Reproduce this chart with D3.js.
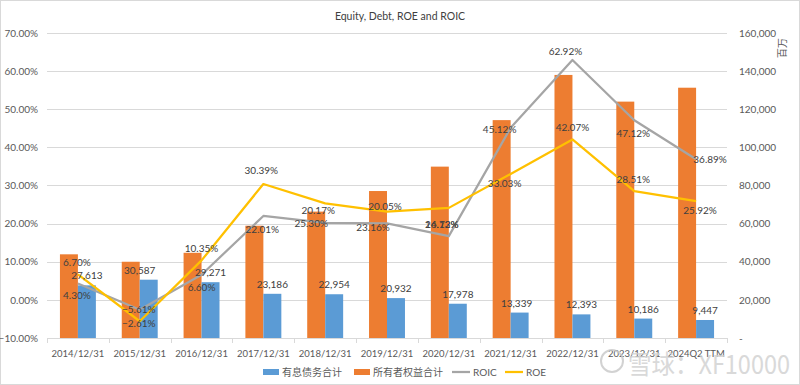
<!DOCTYPE html>
<html>
<head>
<meta charset="utf-8">
<script src="https://cdn.jsdelivr.net/npm/d3@7/dist/d3.min.js"></script>
<style>
  html, body { margin: 0; padding: 0; background: #fff; }
  svg { display: block; font-family: Lato, "Noto Sans", "Noto Sans CJK SC", sans-serif; }
</style>
</head>
<body>
<svg id="chart" width="800" height="385"></svg>
<script>
// ---------- data ----------
const categories = ["2014/12/31","2015/12/31","2016/12/31","2017/12/31","2018/12/31","2019/12/31","2020/12/31","2021/12/31","2022/12/31","2023/12/31","2024Q2 TTM"];
const debt   = [27613, 30587, 29271, 23186, 22954, 20932, 17978, 13339, 12393, 10186, 9447];      // 有息债务合计 (百万)
const equity = [43900, 40000, 44700, 58900, 66300, 77100, 89900, 114300, 138000, 124000, 131300]; // 所有者权益合计 (百万, estimated)
const roic   = [0.0430, -0.0261, 0.0660, 0.2201, 0.2017, 0.2005, 0.1672, 0.4512, 0.6292, 0.4712, 0.3689];
const roe    = [0.0670, -0.0561, 0.1035, 0.3039, 0.2530, 0.2316, 0.2413, 0.3303, 0.4207, 0.2851, 0.2592];
const leftTicks  = [-0.1, 0, 0.1, 0.2, 0.3, 0.4, 0.5, 0.6, 0.7];
const rightTicks = [0, 20000, 40000, 60000, 80000, 100000, 120000, 140000, 160000];
const seriesNames = { debt: "有息债务合计", equity: "所有者权益合计", roic: "ROIC", roe: "ROE" };

// ---------- layout (label nudges, as placed in the original) ----------
const roeLabelOffset  = [[-1,-12],[-1,-12],[0,-12],[-2,-14],[-14,20],[-14,15],[-7,16],[-6,9],[0,-12],[-1,-12],[4,9]];
const roicLabelOffset = [[-1,12],[-1,13],[0,12],[-1,13],[-7,-13],[-2,-17],[-7,-12],[-11,1],[-7,-9],[-1,13],[14,0]];
const debtLabelDx     = [0,-9,0,0,0,0,0,-3,0,0,0];

const colors = { debt: "#5B9BD5", equity: "#ED7D31", roic: "#A5A5A5", roe: "#FFC000" };
const W = 800, H = 385;
const plot = { left: 47, right: 727, top: 33, bottom: 338 };

const svg = d3.select("#chart");

// frame
svg.append("rect").attr("x", 0.5).attr("y", 0.5).attr("width", W - 1).attr("height", H - 1)
  .attr("fill", "#fff").attr("stroke", "#d9d9d9");

// scales
const x = d3.scaleBand().domain(categories).range([plot.left, plot.right]).paddingInner(0).paddingOuter(0);
const sub = d3.scaleBand().domain(["equity","debt"]).range([0, x.bandwidth()]).paddingInner(0).paddingOuter(0.72);
const yL = d3.scaleLinear().domain([-0.1, 0.7]).range([plot.bottom, plot.top]);
const yR = d3.scaleLinear().domain([0, 160000]).range([plot.bottom, plot.top]);
const cx = c => x(c) + x.bandwidth() / 2;

// title
svg.append("text").attr("x", 400).attr("y", 16).attr("text-anchor", "middle")
  .attr("dominant-baseline", "central").attr("font-size", 10.5).attr("fill", "#404040")
  .text("Equity, Debt, ROE and ROIC");

// gridlines
svg.append("g").selectAll("line").data(leftTicks).join("line")
  .attr("x1", plot.left).attr("x2", plot.right)
  .attr("y1", d => Math.round(yL(d)) + 0.5).attr("y2", d => Math.round(yL(d)) + 0.5)
  .attr("stroke", "#d9d9d9").attr("stroke-width", 1);

// left axis
const axL = svg.append("g").attr("transform", `translate(${plot.left},0)`)
  .call(d3.axisLeft(yL).tickValues(leftTicks).tickFormat(d3.format(".2%")).tickSize(0).tickPadding(9));
axL.select(".domain").remove();
axL.selectAll("text").attr("font-size", 10).attr("fill", "#595959").attr("font-family", "Lato, sans-serif");

// right axis
const fmtR = d => d === 0 ? "-" : d3.format(",")(d);
const axR = svg.append("g").attr("transform", `translate(${plot.right},0)`)
  .call(d3.axisRight(yR).tickValues(rightTicks).tickFormat(fmtR).tickSize(0).tickPadding(12));
axR.select(".domain").remove();
axR.selectAll("text").attr("font-size", 10).attr("fill", "#595959").attr("font-family", "Lato, sans-serif");

// unit label
svg.append("text").attr("transform", "translate(781,48) rotate(-90)")
  .attr("text-anchor", "middle").attr("dominant-baseline", "central")
  .attr("font-size", 10).attr("fill", "#595959").attr("font-family", "'Noto Sans CJK SC', sans-serif")
  .text("百万");

// bottom axis
const axB = svg.append("g").attr("transform", `translate(0,${plot.bottom})`)
  .call(d3.axisBottom(x).tickSize(0).tickPadding(12));
axB.select(".domain").attr("stroke", "#d9d9d9");
axB.selectAll("text").attr("font-size", 9.5).attr("fill", "#595959").attr("font-family", "Lato, sans-serif");
// category separators
svg.append("g").selectAll("line").data(categories.concat(["__end"])).join("line")
  .attr("x1", (d, i) => Math.round(i < categories.length ? x(d) : plot.right) + 0.5)
  .attr("x2", (d, i) => Math.round(i < categories.length ? x(d) : plot.right) + 0.5)
  .attr("y1", plot.bottom).attr("y2", plot.bottom + 5)
  .attr("stroke", "#d9d9d9");

// bars
const barData = categories.map((c, i) => ({ c, i, equity: equity[i], debt: debt[i] }));
const gBars = svg.append("g");
gBars.selectAll("rect.eq").data(barData).join("rect").attr("class", "eq")
  .attr("x", d => x(d.c) + sub("equity")).attr("width", sub.bandwidth())
  .attr("y", d => yR(d.equity)).attr("height", d => yR(0) - yR(d.equity))
  .attr("fill", colors.equity);
gBars.selectAll("rect.db").data(barData).join("rect").attr("class", "db")
  .attr("x", d => x(d.c) + sub("debt")).attr("width", sub.bandwidth())
  .attr("y", d => yR(d.debt)).attr("height", d => yR(0) - yR(d.debt))
  .attr("fill", colors.debt);

// lines
const lineGen = d3.line().x(d => cx(d.c)).y(d => yL(d.v));
const roicData = categories.map((c, i) => ({ c, i, v: roic[i] }));
const roeData  = categories.map((c, i) => ({ c, i, v: roe[i] }));
svg.append("path").datum(roicData).attr("d", lineGen).attr("fill", "none")
  .attr("stroke", colors.roic).attr("stroke-width", 2.25).attr("stroke-linejoin", "round");
svg.append("path").datum(roeData).attr("d", lineGen).attr("fill", "none")
  .attr("stroke", colors.roe).attr("stroke-width", 2.25).attr("stroke-linejoin", "round");

// data labels
const lblStyle = sel => sel.attr("text-anchor", "middle").attr("dominant-baseline", "central")
  .attr("font-size", 10).attr("fill", "#404040").attr("font-family", "Lato, sans-serif");
const pct = d3.format(".2%");
svg.append("g").selectAll("text").data(barData).join("text")
  .attr("x", d => x(d.c) + sub("debt") + sub.bandwidth() / 2 + debtLabelDx[d.i])
  .attr("y", d => yR(d.debt) - 10)
  .call(lblStyle).text(d => d3.format(",")(d.debt));
svg.append("g").selectAll("text").data(roicData).join("text")
  .attr("x", d => cx(d.c) + roicLabelOffset[d.i][0])
  .attr("y", d => yL(d.v) + roicLabelOffset[d.i][1])
  .call(lblStyle).text(d => pct(d.v));
svg.append("g").selectAll("text").data(roeData).join("text")
  .attr("x", d => cx(d.c) + roeLabelOffset[d.i][0])
  .attr("y", d => yL(d.v) + roeLabelOffset[d.i][1])
  .call(lblStyle).text(d => pct(d.v));

// legend
const legend = svg.append("g").attr("transform", "translate(0,372)");
const legItems = [
  { key: "debt", type: "rect", x: 263, tx: 282 },
  { key: "equity", type: "rect", x: 354, tx: 373 },
  { key: "roic", type: "line", x: 452, tx: 473 },
  { key: "roe", type: "line", x: 505, tx: 526 }
];
legItems.forEach(it => {
  if (it.type === "rect") {
    legend.append("rect").attr("x", it.x).attr("y", -3).attr("width", 16).attr("height", 6).attr("fill", colors[it.key]);
  } else {
    legend.append("line").attr("x1", it.x).attr("x2", it.x + 18).attr("y1", 0).attr("y2", 0)
      .attr("stroke", colors[it.key]).attr("stroke-width", 2.25);
  }
  legend.append("text").attr("x", it.tx).attr("y", 0).attr("dominant-baseline", "central")
    .attr("font-size", 10).attr("fill", "#595959")
    .attr("font-family", "Lato, 'Noto Sans CJK SC', sans-serif")
    .text(seriesNames[it.key]);
});

// watermark
const wm = svg.append("g").attr("opacity", 0.8);
wm.append("circle").attr("cx", 612).attr("cy", 361).attr("r", 11).attr("fill", "none").attr("stroke", "#c8c8c8").attr("stroke-width", 2);
wm.append("text").attr("x", 628).attr("y", 362).attr("dominant-baseline", "central")
  .attr("font-size", 26).attr("fill", "#d0d0d0").attr("font-family", "'Noto Sans CJK SC', sans-serif")
  .attr("textLength", 162).attr("lengthAdjust", "spacingAndGlyphs")
  .text("雪球：XF10000");
</script>
</body>
</html>
